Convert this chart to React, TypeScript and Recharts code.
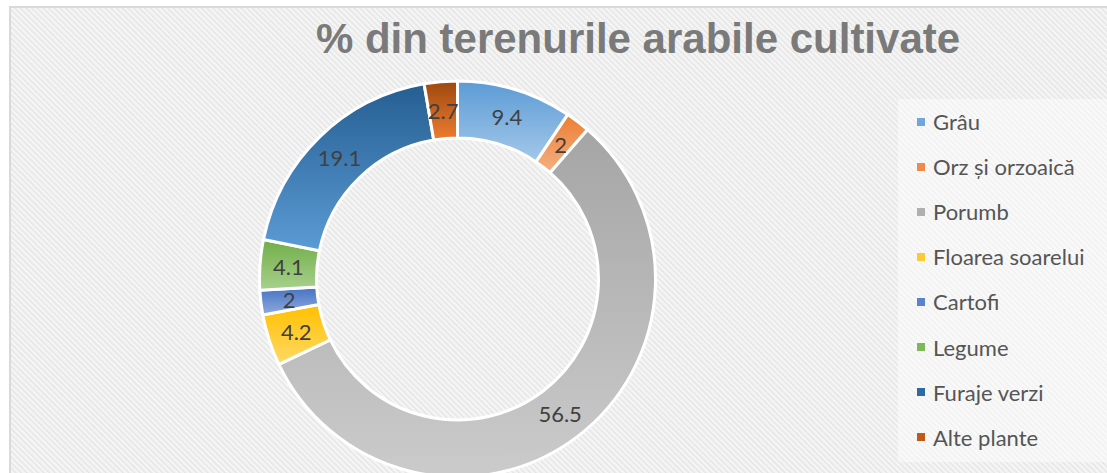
import React from 'react';
import { PieChart, Pie, Cell, Legend } from 'recharts';

const categories = ['Grâu', 'Orz și orzoaică', 'Porumb', 'Floarea soarelui', 'Cartofi', 'Legume', 'Furaje verzi', 'Alte plante'];
const values = [9.4, 2, 56.5, 4.2, 2, 4.1, 19.1, 2.7];
const topColors = ['#5b9bd5', '#ed7d31', '#a5a5a5', '#ffc000', '#4472c4', '#70ad47', '#255e91', '#9e480e'];
const bottomColors = ['#a4c8ea', '#f4b183', '#cbcbcb', '#ffd966', '#8faadc', '#a9d18e', '#5b9bd5', '#ed7d31'];
const legendColors = ['#6fa6dc', '#f0894a', '#b0b0b0', '#ffc933', '#5b82cc', '#7fb85a', '#2e6aa3', '#c05a1a'];

const data = categories.map((name, i) => ({ name, value: values[i] }));

const W = 1107;
const H = 473;
const RAD = Math.PI / 180;

const renderLabel = ({ cx, cy, midAngle, innerRadius, outerRadius, value }: any) => {
    const r = (innerRadius + outerRadius) / 2;
    const x = cx + r * Math.cos(-midAngle * RAD);
    const y = cy + r * Math.sin(-midAngle * RAD);
    return (
        <text x={x} y={y} textAnchor="middle" dominantBaseline="central" fill="#404040" fontSize={22} fontFamily="Lato, sans-serif">
            {value}
        </text>
    );
};

// keep the legend in data order (recharts 3 sorts by name otherwise)
const LegendList = () => (
    <div style={{ fontFamily: 'Lato, sans-serif', fontSize: 22, color: '#555555' }}>
        {categories.map((name, i) => (
            <div key={`leg-${i}`} style={{ height: 45.1, display: 'flex', alignItems: 'center' }}>
                <span style={{ width: 8, height: 8, background: legendColors[i], marginRight: 8, display: 'inline-block' }} />
                <span>{name}</span>
            </div>
        ))}
    </div>
);

export default function App() {
    return (
        <div style={{ position: 'fixed', left: 0, top: 0, width: W, height: H, overflow: 'hidden', background: '#fff' }}>
            <svg width={W} height={H} style={{ position: 'absolute', left: 0, top: 0 }}>
                <defs>
                    <pattern id="hatch" width="4" height="4" patternUnits="userSpaceOnUse" patternTransform="rotate(-45)">
                        <rect width="4" height="4" fill="#f5f5f5" />
                        <rect width="1.4" height="4" fill="#e4e4e4" />
                    </pattern>
                </defs>
                <rect x={10} y={7} width={W} height={H} fill="url(#hatch)" stroke="#d9d9d9" strokeWidth={2} />
                <rect x={898} y={99} width={215} height={363} fill="#ffffff" fillOpacity={0.45} />
                <text x={638} y={53} textAnchor="middle" fill="#7a7a7a" fontSize={42} fontWeight="bold" fontFamily="Liberation Sans, Arial, sans-serif">
                    % din terenurile arabile cultivate
                </text>
            </svg>
            <div style={{ position: 'absolute', left: 0, top: 0 }}>
                <PieChart width={W} height={H} margin={{ top: 0, right: 0, bottom: 0, left: 0 }}>
                    <defs>
                        {topColors.map((c, i) => (
                            <linearGradient key={`g-${i}`} id={`grad-${i}`} x1="0" y1="0" x2="0" y2="1">
                                <stop offset="0%" stopColor={c} />
                                <stop offset="100%" stopColor={bottomColors[i]} />
                            </linearGradient>
                        ))}
                    </defs>
                    <Pie
                        data={data}
                        dataKey="value"
                        nameKey="name"
                        cx={457.5}
                        cy={279}
                        innerRadius={141}
                        outerRadius={198}
                        startAngle={90}
                        endAngle={-270}
                        stroke="#ffffff"
                        strokeWidth={3}
                        label={renderLabel}
                        labelLine={false}
                        isAnimationActive={false}
                    >
                        {data.map((entry, index) => (
                            <Cell key={`cell-${index}`} fill={`url(#grad-${index})`} />
                        ))}
                    </Pie>
                    <Legend
                        layout="vertical"
                        content={<LegendList />}
                        wrapperStyle={{ position: 'absolute', left: 917, top: 99, width: 190 }}
                    />
                </PieChart>
            </div>
        </div>
    );
}
